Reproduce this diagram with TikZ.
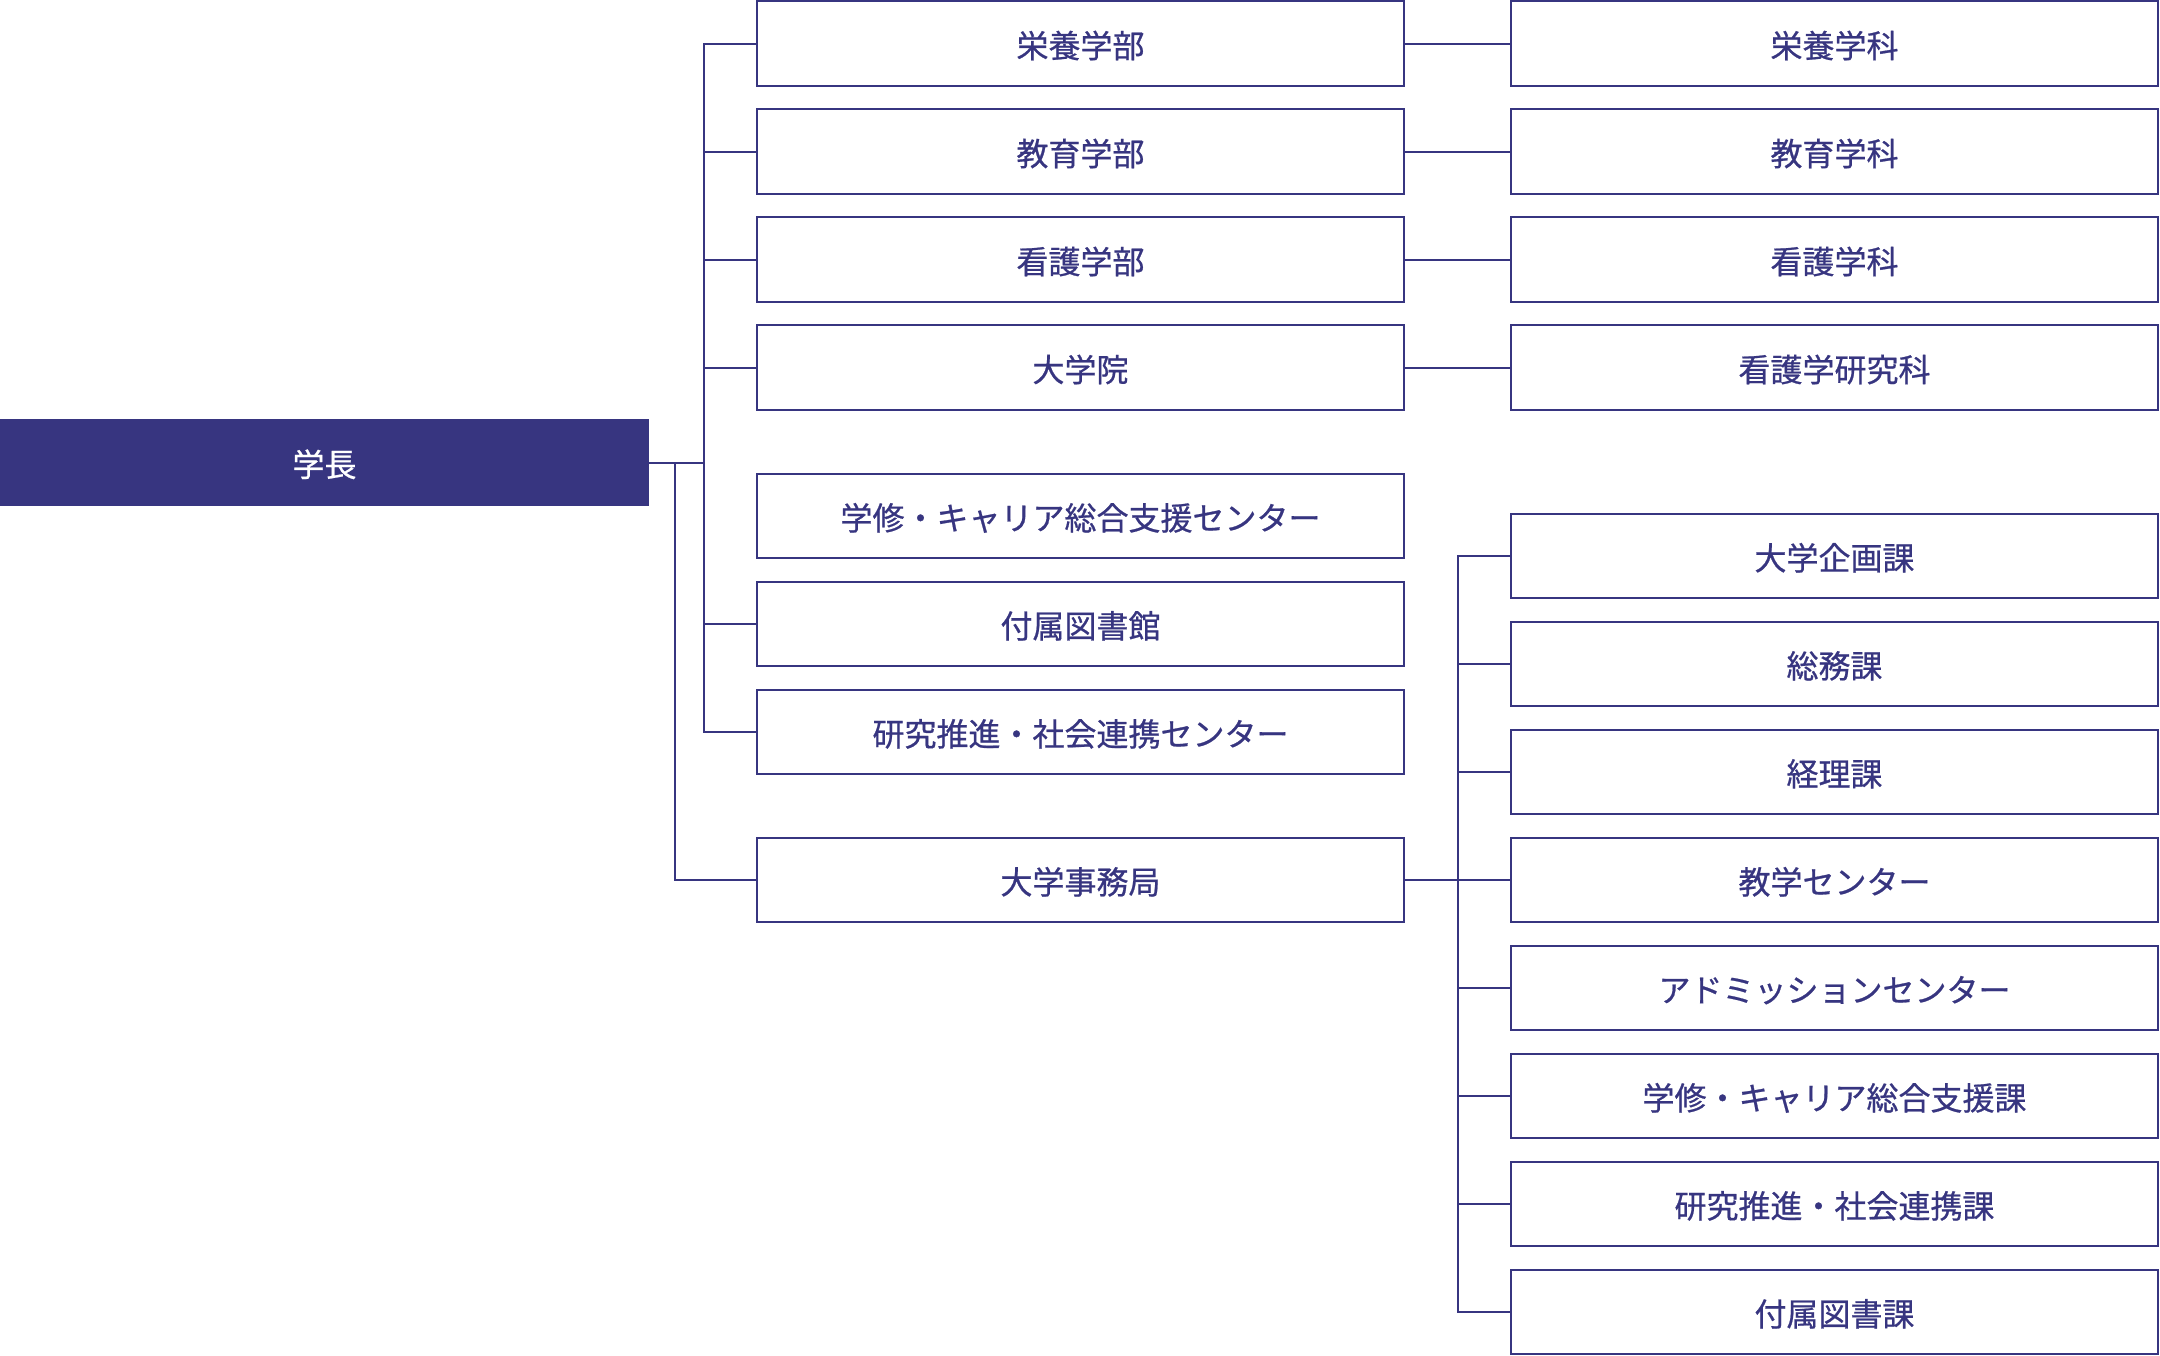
\documentclass[tikz,border=0pt]{standalone}
\usepackage{fontspec}
\newfontfamily\jp{Noto Sans CJK JP}[FakeBold=0.7]
\definecolor{navy}{RGB}{55,53,128}
\begin{document}
\begin{tikzpicture}[x=1pt,y=-1pt,
  box/.style={draw=navy, line width=2pt, minimum width=647pt, minimum height=84.5pt, inner sep=0pt, text height=28pt, text depth=0pt, text=navy, font=\jp\fontsize{32}{38}\selectfont},
  head/.style={fill=navy, minimum width=649pt, minimum height=87pt, inner sep=0pt, text height=28pt, text depth=0pt, text=white, font=\jp\fontsize{32}{38}\selectfont},
  link/.style={draw=navy, line width=2pt, line cap=rect}]
\useasboundingbox (0,0) rectangle (2160,1356);
\node[head] (pres) at (324.5,462.5) {学長};
% middle column
\node[box] (m1) at (1080.5,43.7) {栄養学部};
\node[box] (m2) at (1080.5,151.7) {教育学部};
\node[box] (m3) at (1080.5,259.7) {看護学部};
\node[box] (m4) at (1080.5,367.7) {大学院};
\node[box] (m5) at (1080.5,516) {学修・キャリア総合支援センター};
\node[box] (m6) at (1080.5,624) {付属図書館};
\node[box] (m7) at (1080.5,732) {研究推進・社会連携センター};
\node[box] (m8) at (1080.5,880) {大学事務局};
% right column, upper
\node[box] (r1) at (1834.5,43.7) {栄養学科};
\node[box] (r2) at (1834.5,151.7) {教育学科};
\node[box] (r3) at (1834.5,259.7) {看護学科};
\node[box] (r4) at (1834.5,367.7) {看護学研究科};
% right column, lower
\node[box] (s1) at (1834.5,556) {大学企画課};
\node[box] (s2) at (1834.5,664) {総務課};
\node[box] (s3) at (1834.5,772) {経理課};
\node[box] (s4) at (1834.5,880) {教学センター};
\node[box] (s5) at (1834.5,988) {アドミッションセンター};
\node[box] (s6) at (1834.5,1096) {学修・キャリア総合支援課};
\node[box] (s7) at (1834.5,1204) {研究推進・社会連携課};
\node[box] (s8) at (1834.5,1312) {付属図書課};
% trunks
\coordinate (ta) at (704,0);
\coordinate (tb) at (675,0);
\coordinate (tc) at (1458,0);
\draw[link] (pres.east) -- (pres.east -| ta);
\draw[link] (m1.west -| ta) -- (m7.west -| ta);
\foreach \n in {m1,m2,m3,m4,m6,m7} \draw[link] (\n.west -| ta) -- (\n.west);
\draw[link] (pres.east -| tb) |- (m8.west);
\draw[link] (m1.east) -- (r1.west);
\draw[link] (m2.east) -- (r2.west);
\draw[link] (m3.east) -- (r3.west);
\draw[link] (m4.east) -- (r4.west);
\draw[link] (m8.east) -- (s4.west);
\draw[link] (s1.west -| tc) -- (s8.west -| tc);
\foreach \n in {s1,s2,s3,s4,s5,s6,s7,s8} \draw[link] (\n.west -| tc) -- (\n.west);
\end{tikzpicture}
\end{document}
